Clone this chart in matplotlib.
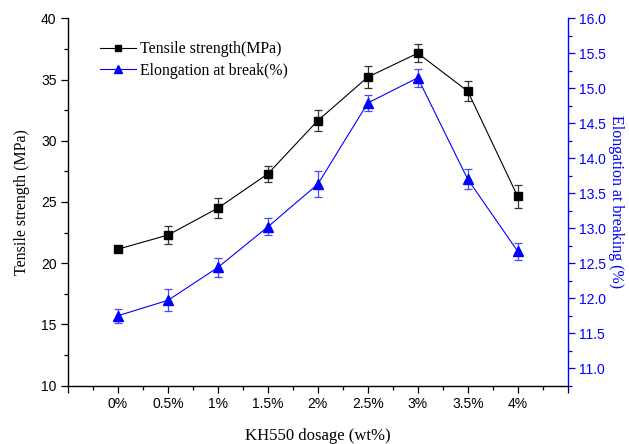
import matplotlib
matplotlib.use("Agg")
import matplotlib.pyplot as plt
from matplotlib.lines import Line2D
from matplotlib.ticker import MultipleLocator, FixedLocator

categories = ["0%", "0.5%", "1%", "1.5%", "2%", "2.5%", "3%", "3.5%", "4%"]
tensile = [21.15, 22.3, 24.5, 27.3, 31.65, 35.2, 37.15, 34.05, 25.45]
tensile_err = [0.15, 0.73, 0.83, 0.65, 0.85, 0.92, 0.75, 0.83, 0.92]
elong = [11.75, 11.97, 12.44, 13.02, 13.63, 14.79, 15.15, 13.70, 12.67]
elong_err = [0.10, 0.155, 0.13, 0.12, 0.19, 0.11, 0.13, 0.14, 0.12]

serif = ["Liberation Serif", "DejaVu Serif"]
sans = ["Liberation Sans", "DejaVu Sans"]

fig = plt.figure(figsize=(6.29, 4.44), dpi=100)
ax = fig.add_axes([0.1081, 0.1313, 0.7944, 0.8275])
ax2 = ax.twinx()

x = list(range(len(categories)))
ax.errorbar(x, tensile, yerr=tensile_err, color="black", ecolor="#333333",
            marker="s", markersize=5.3, linewidth=0.8, elinewidth=0.9,
            capsize=2.7, capthick=0.9)
ax2.errorbar(x, elong, yerr=elong_err, color="#0000ff", ecolor="#4848ff",
             marker="^", markersize=6.8, linewidth=0.8, elinewidth=0.9,
             capsize=2.7, capthick=0.9)

ax.set_xlim(-1, 9)
ax.set_ylim(10, 40)
ax2.set_ylim(10.75, 16.0)

ax.xaxis.set_major_locator(FixedLocator(range(-1, 10)))
ax.set_xticklabels([""] + categories + [""])
ax.xaxis.set_minor_locator(MultipleLocator(0.5))
ax.yaxis.set_major_locator(MultipleLocator(5))
ax.yaxis.set_minor_locator(MultipleLocator(2.5))
ax2.yaxis.set_major_locator(FixedLocator([11 + 0.5 * i for i in range(11)]))
ax2.yaxis.set_minor_locator(MultipleLocator(0.25))
ax2.set_yticklabels(["%.1f" % (11 + 0.5 * i) for i in range(11)])

for a in (ax, ax2):
    a.spines["top"].set_visible(False)
ax.spines["right"].set_visible(False)
ax2.spines["left"].set_visible(False)
ax2.spines["bottom"].set_visible(False)
ax2.spines["right"].set_color("#0000ff")
ax.spines["left"].set_linewidth(1.0)
ax.spines["bottom"].set_linewidth(1.0)
ax2.spines["right"].set_linewidth(1.0)

ax.tick_params(axis="both", which="major", direction="out", length=5.2, width=0.9,
               labelsize=10, pad=3)
ax.tick_params(axis="both", which="minor", direction="out", length=3, width=0.9)
ax2.tick_params(axis="y", which="major", direction="out", length=5.2, width=0.9,
                colors="#0000ff", labelsize=10, pad=3)
ax2.tick_params(axis="y", which="minor", direction="out", length=3, width=0.9,
                colors="#0000ff")
for lab in ax.get_xticklabels() + ax.get_yticklabels() + ax2.get_yticklabels():
    lab.set_family(sans)

ax.set_xlabel("KH550 dosage (wt%)", family=serif, fontsize=12, labelpad=12)
ax.set_ylabel("Tensile strength (MPa)", family=serif, fontsize=11.5, labelpad=8)
ax2.set_ylabel("Elongation at breaking (%)", family=serif, fontsize=11.5,
               color="#0000ff", rotation=270, labelpad=13)

h1 = Line2D([], [], color="black", marker="s", markersize=4.8, linewidth=0.8)
h2 = Line2D([], [], color="#0000ff", marker="^", markersize=6.2, linewidth=0.8)
leg = ax.legend(handles=[h1, h2],
                labels=["Tensile strength(MPa)", "Elongation at break(%)"],
                loc="upper left", bbox_to_anchor=(0.064, 0.937),
                frameon=False, prop={"family": serif, "size": 11.4},
                handlelength=2.3, handletextpad=0.22, labelspacing=0.33,
                borderaxespad=0, borderpad=0)

fig.savefig("out.png", dpi=100)
